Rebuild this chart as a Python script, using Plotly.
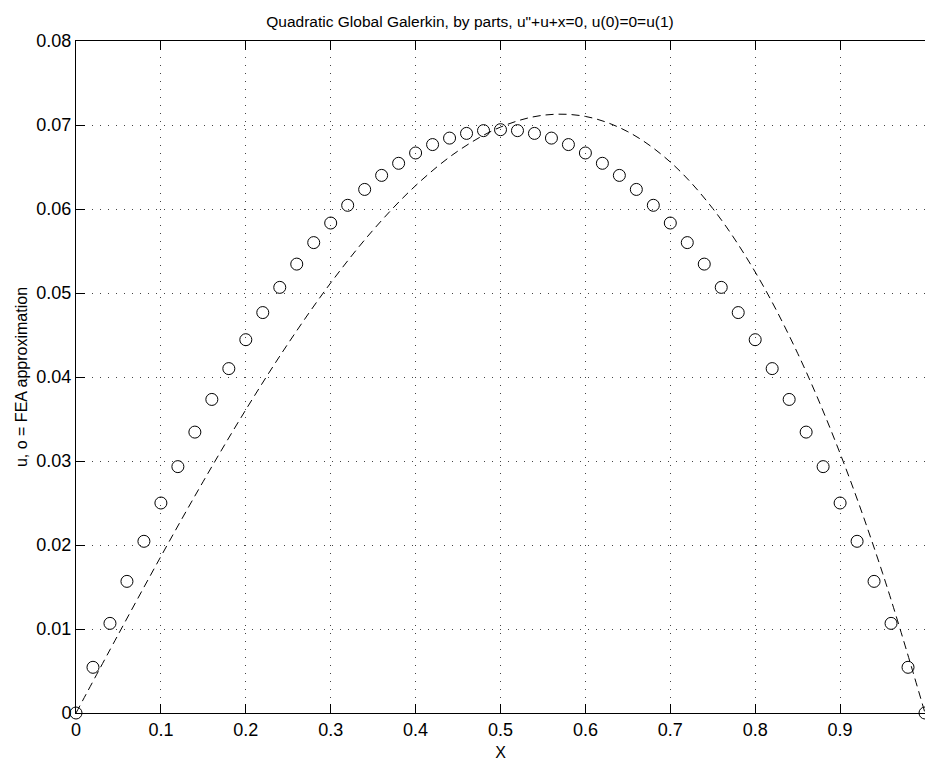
import plotly.graph_objects as go

# FEA approximation (circles), x = 0:0.02:1
x_fea = [0.00, 0.02, 0.04, 0.06, 0.08, 0.10, 0.12, 0.14, 0.16, 0.18, 0.20,
         0.22, 0.24, 0.26, 0.28, 0.30, 0.32, 0.34, 0.36, 0.38, 0.40,
         0.42, 0.44, 0.46, 0.48, 0.50, 0.52, 0.54, 0.56, 0.58, 0.60,
         0.62, 0.64, 0.66, 0.68, 0.70, 0.72, 0.74, 0.76, 0.78, 0.80,
         0.82, 0.84, 0.86, 0.88, 0.90, 0.92, 0.94, 0.96, 0.98, 1.00]
u_fea = [0.0, 0.00544, 0.01067, 0.01567, 0.02044, 0.02500, 0.02933, 0.03344, 0.03733, 0.04100, 0.04444,
         0.04767, 0.05067, 0.05344, 0.05600, 0.05833, 0.06044, 0.06233, 0.06400, 0.06544, 0.06667,
         0.06767, 0.06844, 0.06900, 0.06933, 0.06944, 0.06933, 0.06900, 0.06844, 0.06767, 0.06667,
         0.06544, 0.06400, 0.06233, 0.06044, 0.05833, 0.05600, 0.05344, 0.05067, 0.04767, 0.04444,
         0.04100, 0.03733, 0.03344, 0.02933, 0.02500, 0.02044, 0.01567, 0.01067, 0.00544, 0.0]

# exact solution (dashed)
x_exact = [0.00, 0.05, 0.10, 0.15, 0.20, 0.25, 0.30, 0.35, 0.40, 0.45, 0.50,
           0.55, 0.60, 0.65, 0.70, 0.75, 0.80, 0.85, 0.90, 0.95, 1.00]
u_exact = [0.0, 0.00939, 0.01864, 0.02759, 0.03610, 0.04401, 0.05120, 0.05750, 0.06278, 0.06691, 0.06975,
           0.07116, 0.07102, 0.06920, 0.06559, 0.06006, 0.05250, 0.04282, 0.03090, 0.01666, 0.0]

x_ticks = [0, 0.1, 0.2, 0.3, 0.4, 0.5, 0.6, 0.7, 0.8, 0.9]
x_tick_text = ["0", "0.1", "0.2", "0.3", "0.4", "0.5", "0.6", "0.7", "0.8", "0.9"]
y_ticks = [0, 0.01, 0.02, 0.03, 0.04, 0.05, 0.06, 0.07, 0.08]
y_tick_text = ["0", "0.01", "0.02", "0.03", "0.04", "0.05", "0.06", "0.07", "0.08"]

FONT = "Liberation Sans, Arial"

fig = go.Figure()
fig.add_trace(go.Scatter(x=x_exact, y=u_exact, mode="lines", line_shape="spline",
                         line=dict(color="black", width=1, dash="8px,5px"),
                         showlegend=False, hoverinfo="skip"))
fig.add_trace(go.Scatter(x=x_fea, y=u_fea, mode="markers",
                         marker=dict(symbol="circle-open", size=12, color="black",
                                     line=dict(width=1, color="black")),
                         cliponaxis=False, showlegend=False))

axis_common = dict(showline=True, linecolor="black", linewidth=1,
                   ticks="inside", ticklen=9, tickcolor="black", tickwidth=1,
                   showgrid=True, gridcolor="#444", gridwidth=1, griddash="1px,7px",
                   zeroline=False, tickfont=dict(family=FONT, size=18, color="black"))

fig.update_layout(
    width=925, height=761,
    margin=dict(l=76, r=0, t=41, b=48),
    paper_bgcolor="white", plot_bgcolor="white",
    font=dict(family=FONT, color="black"),
    title=dict(text='Quadratic Global Galerkin, by parts, u"+u+x=0, u(0)=0=u(1)',
               x=470 / 925, xanchor="center", xref="container",
               y=1 - 22 / 761, yanchor="middle", yref="container",
               font=dict(size=15.5, family=FONT)),
    xaxis=dict(range=[0, 1.0], tickvals=x_ticks, ticktext=x_tick_text, mirror="ticks",
               title=dict(text="X", font=dict(size=16), standoff=8), **axis_common),
    yaxis=dict(range=[0, 0.08], tickvals=y_ticks, ticktext=y_tick_text, mirror=False,
               title=dict(text="u, o = FEA approximation", font=dict(size=16), standoff=4),
               **axis_common),
)

fig.write_html("out.html")
